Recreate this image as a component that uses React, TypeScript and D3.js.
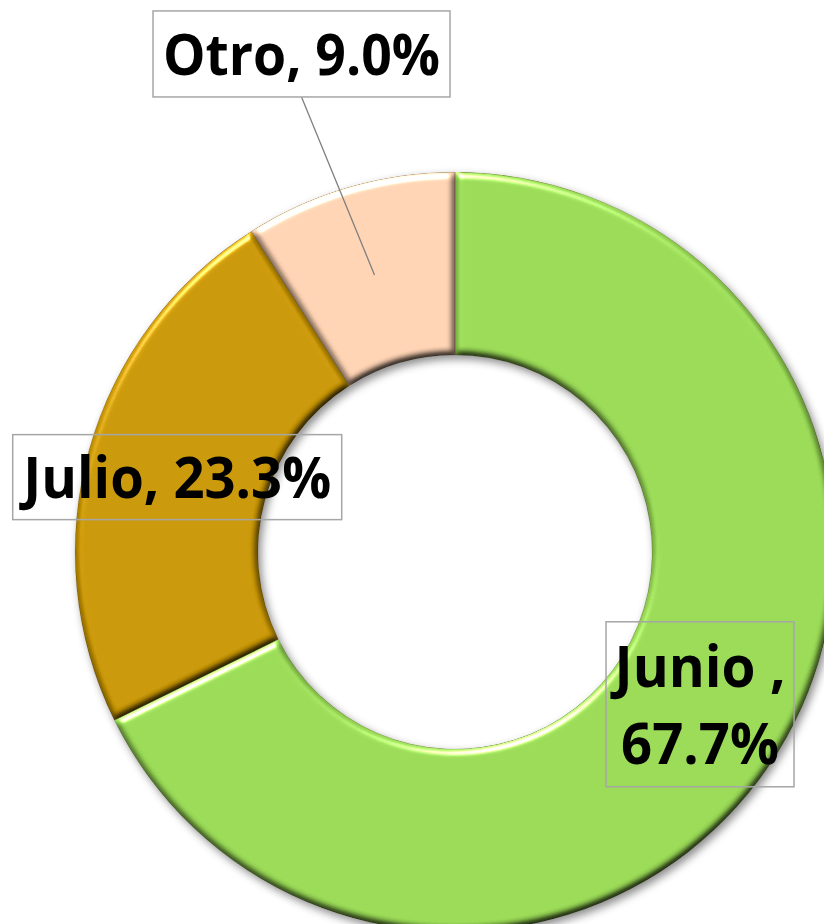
import React, { useRef, useEffect } from 'react';
import * as d3 from 'd3';

// Chart data (order = clockwise from 12 o'clock)
const categories = ['Junio ', 'Julio', 'Otro'];
const shares = [67.7, 23.3, 9.0];
const sliceColors = ['#96D653', '#C69403', '#FACFB0'];
// label text lines as shown on the chart
const labelLines = [['Junio ,', '67.7%'], ['Julio, 23.3%'], ['Otro, 9.0%']];
// label text widths (Calibri-like narrow bold)
const labelWidths = [[171, 158], [308], [277]];

const WIDTH = 824;
const HEIGHT = 924;

const DonutChart: React.FC = () => {
  const svgRef = useRef<SVGSVGElement>(null);

  useEffect(() => {
    if (!svgRef.current) return;
    document.body.style.margin = '0';

    const svg = d3.select(svgRef.current);
    svg.selectAll('*').remove();

    const cx = 455;
    const cy = 552;
    const outerR = 380;
    const innerR = 197;

    const defs = svg.append('defs');

    // soft bevel like the office "3D" donut
    const bevel = defs.append('filter')
      .attr('id', 'bevel')
      .attr('color-interpolation-filters', 'sRGB')
      .attr('x', '-5%').attr('y', '-5%')
      .attr('width', '110%').attr('height', '110%');
    bevel.append('feGaussianBlur')
      .attr('in', 'SourceAlpha')
      .attr('stdDeviation', 3.5)
      .attr('result', 'blur');
    bevel.append('feSpecularLighting')
      .attr('in', 'blur')
      .attr('surfaceScale', 4)
      .attr('specularConstant', 0.8)
      .attr('specularExponent', 35)
      .attr('lighting-color', '#ffffff')
      .attr('result', 'spec')
      .append('feDistantLight')
      .attr('azimuth', 250)
      .attr('elevation', 40);
    bevel.append('feComposite')
      .attr('in', 'spec').attr('in2', 'SourceAlpha')
      .attr('operator', 'in').attr('result', 'specIn');
    bevel.append('feDiffuseLighting')
      .attr('in', 'blur')
      .attr('surfaceScale', 5)
      .attr('diffuseConstant', 1.155)
      .attr('lighting-color', '#ffffff')
      .attr('result', 'diff')
      .append('feDistantLight')
      .attr('azimuth', 250)
      .attr('elevation', 60);
    bevel.append('feComposite')
      .attr('in', 'SourceGraphic').attr('in2', 'diff')
      .attr('operator', 'arithmetic')
      .attr('k1', 1).attr('k2', 0).attr('k3', 0).attr('k4', 0)
      .attr('result', 'lit');
    bevel.append('feComposite')
      .attr('in', 'lit').attr('in2', 'SourceAlpha')
      .attr('operator', 'in').attr('result', 'litIn');
    bevel.append('feComposite')
      .attr('in', 'litIn').attr('in2', 'specIn')
      .attr('operator', 'arithmetic')
      .attr('k1', 0).attr('k2', 1).attr('k3', 1).attr('k4', 0);

    const shadow = defs.append('filter')
      .attr('id', 'shadow')
      .attr('x', '-10%').attr('y', '-10%')
      .attr('width', '120%').attr('height', '120%');
    shadow.append('feDropShadow')
      .attr('dx', 3).attr('dy', 4)
      .attr('stdDeviation', 4)
      .attr('flood-color', '#000')
      .attr('flood-opacity', 0.45);

    const pie = d3.pie<number>().sort(null).value((d) => d);
    const arcs = pie(shares);
    const arc = d3.arc<d3.PieArcDatum<number>>()
      .innerRadius(innerR)
      .outerRadius(outerR);

    const g = svg.append('g')
      .attr('transform', `translate(${cx},${cy})`)
      .attr('filter', 'url(#shadow)');

    g.selectAll('.slice')
      .data(arcs)
      .enter()
      .append('path')
      .attr('class', 'slice')
      .attr('d', arc)
      .attr('fill', (_d, i) => sliceColors[i])
      .attr('stroke', 'rgba(60,40,0,0.35)')
      .attr('stroke-width', 1)
      .attr('filter', 'url(#bevel)');

    // labels: box size and offset from the slice centroid
    const fontSize = 58;
    const lineGap = 77;
    const boxes = [
      { w: 188, h: 165, dx: 0, dy: 0, leader: false },
      { w: 329, h: 85, dx: 0, dy: 3, leader: false },
      { w: 297, h: 86, dx: -73, dy: -221, leader: true },
    ];

    const labels = svg.append('g');
    arcs.forEach((a, i) => {
      const [mx, my] = arc.centroid(a);
      const b = boxes[i];
      const bx = cx + mx + b.dx;
      const by = cy + my + b.dy;

      if (b.leader) {
        // leader line from the slice to the box
        labels.append('line')
          .attr('x1', cx + mx)
          .attr('y1', cy + my)
          .attr('x2', bx)
          .attr('y2', by + b.h / 2)
          .attr('stroke', '#7f7f7f')
          .attr('stroke-width', 1.3);
      }

      labels.append('rect')
        .attr('x', bx - b.w / 2)
        .attr('y', by - b.h / 2)
        .attr('width', b.w)
        .attr('height', b.h)
        .attr('fill', b.leader ? '#ffffff' : 'none')
        .attr('stroke', '#a6a6a6')
        .attr('stroke-width', 1.5);

      const lines = labelLines[i];
      const firstBase = by + 21 - ((lines.length - 1) * lineGap) / 2;
      lines.forEach((t, j) => {
        labels.append('text')
          .attr('x', bx)
          .attr('y', firstBase + j * lineGap)
          .attr('text-anchor', 'middle')
          .attr('font-family', '"Open Sans", "Noto Sans", sans-serif')
          .attr('font-weight', 700)
          .attr('font-size', fontSize)
          .attr('textLength', labelWidths[i][j])
          .attr('lengthAdjust', 'spacingAndGlyphs')
          .attr('fill', '#000')
          .text(t);
      });
    });
  }, []);

  return (
    <svg
      ref={svgRef}
      width={WIDTH}
      height={HEIGHT}
      viewBox={`0 0 ${WIDTH} ${HEIGHT}`}
      style={{ display: 'block', background: '#fff' }}
    ></svg>
  );
};

export default function App() {
  return <DonutChart />;
}
